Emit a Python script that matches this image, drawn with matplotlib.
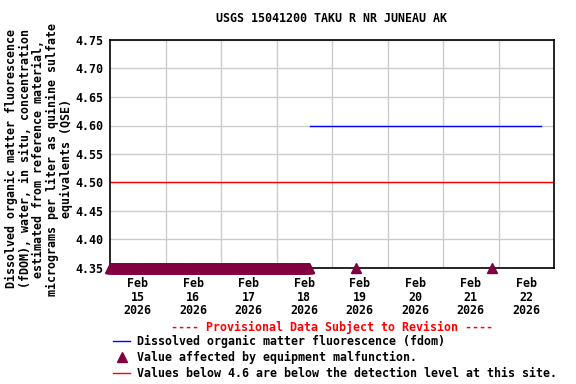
import matplotlib
matplotlib.use("Agg")
import matplotlib.pyplot as plt
import pandas as pd

# fdom record (constant 4.6 after the malfunction period)
fdom_times = pd.to_datetime(["2026-02-18 14:30", "2026-02-22 18:15"])
fdom_vals = [4.60, 4.60]

# equipment malfunction flags (15-minute record), plotted at the axis floor
band_times = pd.date_range("2026-02-15 00:00", "2026-02-18 14:15", freq="15min")
extra_times = pd.to_datetime(["2026-02-19 10:15", "2026-02-21 21:15"])
flag_times = band_times.append(extra_times)
flag_vals = [4.35] * len(flag_times)

detection_level = 4.50
days = pd.date_range("2026-02-15", "2026-02-22", freq="D")
day_labels = ["Feb\n%d\n2026" % d.day for d in days]
y_ticks = [4.35, 4.40, 4.45, 4.50, 4.55, 4.60, 4.65, 4.70, 4.75]

fs = 8.35
font = {"family": "DejaVu Sans Mono", "weight": "bold", "size": fs}
plt.rcParams["font.family"] = "DejaVu Sans Mono"
plt.rcParams["font.weight"] = "bold"

fig = plt.figure(figsize=(5.76, 3.84), dpi=100)
ax = fig.add_axes([110 / 576, 1 - 268 / 384, 444 / 576, 228 / 384])

fdom_line, = ax.plot(fdom_times, fdom_vals, color="#0000ff", lw=1,
                     label="Dissolved organic matter fluorescence (fdom)")
flags, = ax.plot(flag_times, flag_vals, ls="none", marker="^", ms=7,
                 color="#800040", clip_on=False, zorder=5,
                 label="Value affected by equipment malfunction.")
det = ax.axhline(detection_level, color="#ff0000", lw=1,
                 label="Values below 4.6 are below the detection level at this site.")

ax.set_xlim(pd.Timestamp("2026-02-15"), pd.Timestamp("2026-02-23"))
ax.set_ylim(4.35, 4.75)

ax.set_xticks(days + pd.Timedelta(hours=12))
ax.set_xticklabels(day_labels, fontdict=font, linespacing=1.06)
ax.set_xticks(pd.date_range("2026-02-16", "2026-02-22", freq="D"), minor=True)
ax.set_yticks(y_ticks)
ax.set_yticklabels(["%.2f" % v for v in y_ticks], fontdict=font)
ax.tick_params(which="both", length=0)
ax.tick_params(axis="x", pad=6.5)
ax.tick_params(axis="y", pad=5)
ax.grid(True, which="minor", axis="x", color="#cccccc", lw=1)
ax.grid(True, which="major", axis="y", color="#cccccc", lw=1)
ax.set_axisbelow(True)
for s in ax.spines.values():
    s.set_linewidth(1.2)

fig.text(331 / 576, 1 - 19 / 384, "USGS 15041200 TAKU R NR JUNEAU AK",
         ha="center", va="center", **font)
fig.text(39 / 576, 1 - 159 / 384,
         "Dissolved organic matter fluorescence\n"
         "(fDOM), water, in situ, concentration\n"
         "estimated from reference material,\n"
         "micrograms per liter as quinine sulfate\n"
         "equivalents (QSE)",
         rotation=90, ha="center", va="center", multialignment="center",
         linespacing=1.05, **font)
fig.text(332 / 576, 1 - 327 / 384,
         "---- Provisional Data Subject to Revision ----",
         ha="center", va="center", color="#ff0000", **font)

fig.legend(handles=[fdom_line, flags, det], loc="upper left",
           bbox_to_anchor=(113 / 576, 1 - 335 / 384), frameon=False,
           prop={"family": "DejaVu Sans Mono", "weight": "bold", "size": fs},
           handlelength=1.5, handletextpad=0.6, labelspacing=0.25,
           borderpad=0, borderaxespad=0, markerscale=1.0)

fig.savefig("out.png", dpi=100)
